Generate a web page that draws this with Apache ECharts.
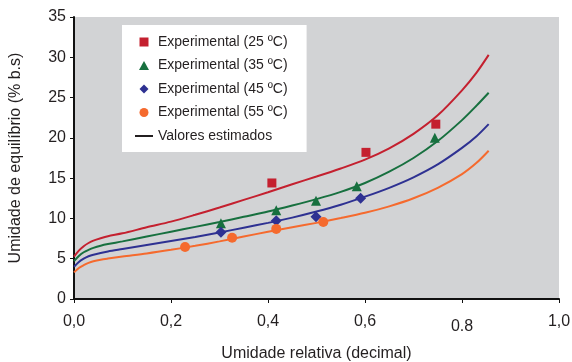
<!DOCTYPE html>
<html>
<head>
<meta charset="utf-8">
<script src="https://cdn.jsdelivr.net/npm/echarts@6/dist/echarts.min.js"></script>
<style>
  html, body { margin: 0; padding: 0; background: #fff; }
  #chart { width: 572px; height: 362px; }
</style>
</head>
<body>
<div id="chart"></div>
<script>
// experimental points
const x25 = [0.408, 0.602, 0.746];
const y25 = [14.4, 18.2, 21.7];
const x35 = [0.303, 0.417, 0.499, 0.583, 0.744];
const y35 = [9.4, 11.0, 12.2, 14.0, 20.0];
const x45 = [0.303, 0.417, 0.499, 0.591];
const y45 = [8.3, 9.7, 10.2, 12.5];
const x55 = [0.229, 0.326, 0.417, 0.514];
const y55 = [6.45, 7.6, 8.7, 9.55];

// estimated curves
const xFit = [0, 0.01, 0.02, 0.03, 0.04, 0.055, 0.07, 0.1, 0.15, 0.2, 0.25, 0.3, 0.35, 0.4, 0.45, 0.5, 0.55, 0.6, 0.65, 0.7, 0.75, 0.8, 0.83, 0.855];
const fit25 = [5.25, 6.0, 6.55, 6.95, 7.25, 7.55, 7.8, 8.15, 8.9, 9.6, 10.45, 11.35, 12.3, 13.25, 14.25, 15.2, 16.2, 17.3, 18.7, 20.5, 22.8, 25.9, 28.1, 30.3];
const fit35 = [4.7, 5.35, 5.8, 6.1, 6.35, 6.62, 6.82, 7.15, 7.75, 8.35, 8.95, 9.55, 10.2, 10.85, 11.6, 12.4, 13.3, 14.4, 15.8, 17.5, 19.6, 22.2, 24.0, 25.6];
const fit45 = [4.0, 4.6, 5.0, 5.3, 5.5, 5.72, 5.9, 6.2, 6.7, 7.2, 7.7, 8.25, 8.85, 9.45, 10.1, 10.85, 11.7, 12.7, 13.8, 15.1, 16.7, 18.75, 20.2, 21.7];
const fit55 = [3.3, 3.85, 4.2, 4.48, 4.68, 4.88, 5.02, 5.27, 5.65, 6.1, 6.6, 7.15, 7.75, 8.35, 8.9, 9.45, 10.05, 10.7, 11.5, 12.5, 13.8, 15.5, 16.9, 18.4];

const xTickLabels = ["0,0", "0,2", "0,4", "0,6", "0.8", "1,0"];

const names = [
  "Experimental (25 ºC)",
  "Experimental (35 ºC)",
  "Experimental (45 ºC)",
  "Experimental (55 ºC)",
  "Valores estimados",
];
const colors = ["#c4202f", "#17703f", "#2e3192", "#f56a2e"];

const zip = (xs, ys) => xs.map((x, i) => [x, ys[i]]);

let myChart = echarts.init(document.getElementById("chart"), null, { renderer: "canvas" });

const font = "Liberation Sans, Arial, sans-serif";

function lineSeries(ys, color) {
  return {
    type: "line",
    data: zip(xFit, ys),
    smooth: 0.3,
    showSymbol: false,
    symbol: "none",
    silent: true,
    lineStyle: { color: color, width: 2 },
    z: 2,
  };
}

function scatterSeries(name, xs, ys, symbol, size, color) {
  return {
    name: name,
    type: "scatter",
    data: zip(xs, ys),
    symbol: symbol,
    symbolSize: size,
    itemStyle: { color: color, opacity: 1 },
    z: 3,
  };
}

let option = {
  animation: false,
  textStyle: { fontFamily: font },
  grid: {
    left: 74,
    right: 13,
    top: 17,
    bottom: 63,
    outerBoundsMode: "none",
    containLabel: false,
    show: true,
    backgroundColor: "#d2d3d5",
    borderWidth: 0,
  },
  legend: {
    orient: "vertical",
    left: 122,
    top: 25,
    backgroundColor: "#ffffff",
    padding: [10, 19, 9, 13],
    itemGap: 9.5,
    itemWidth: 18,
    itemHeight: 9,
    textStyle: { fontFamily: font, fontSize: 14, color: "#231f20" },
    data: [
      { name: names[0], icon: "path://M0,0L10,0L10,10L0,10Z" },
      { name: names[1], icon: "path://M5,0L10,9L0,9Z" },
      { name: names[2], icon: "path://M5,0L10,5L5,10L0,5Z" },
      { name: names[3], icon: "circle" },
      { name: names[4], icon: "path://M0,0L18,0L18,2L0,2Z" },
    ],
  },
  xAxis: {
    type: "value",
    min: 0,
    max: 1,
    interval: 0.2,
    name: "Umidade relativa (decimal)",
    nameLocation: "middle",
    nameGap: 47,
    nameTextStyle: { fontFamily: font, fontSize: 16, color: "#231f20" },
    axisLine: { show: true, lineStyle: { color: "#111", width: 2 } },
    axisTick: { show: true, length: 4, lineStyle: { color: "#111", width: 1 } },
    axisLabel: {
      margin: 15,
      fontFamily: font,
      fontSize: 16,
      color: "#231f20",
      formatter: (v) => {
        const i = Math.round(v / 0.2);
        return i === 4 ? "{low|" + xTickLabels[i] + "}" : xTickLabels[i];
      },
      rich: { low: { fontFamily: font, fontSize: 16, color: "#231f20", padding: [5, 0, 0, 0] } },
    },
    splitLine: { show: false },
  },
  yAxis: {
    type: "value",
    min: 0,
    max: 35,
    interval: 5,
    name: "Umidade de equilíbrio (% b.s)",
    nameLocation: "middle",
    nameGap: 50,
    nameTextStyle: { fontFamily: font, fontSize: 16, color: "#231f20" },
    axisLine: { show: true, lineStyle: { color: "#111", width: 2 } },
    axisTick: { show: true, length: 4, lineStyle: { color: "#111", width: 1 } },
    axisLabel: { margin: 8, fontFamily: font, fontSize: 16, color: "#231f20" },
    splitLine: { show: false },
  },
  series: [
    lineSeries(fit25, colors[0]),
    lineSeries(fit35, colors[1]),
    lineSeries(fit45, colors[2]),
    lineSeries(fit55, colors[3]),
    scatterSeries(names[0], x25, y25, "rect", 9, colors[0]),
    scatterSeries(names[1], x35, y35, "triangle", 10, colors[1]),
    scatterSeries(names[2], x45, y45, "diamond", 11, colors[2]),
    scatterSeries(names[3], x55, y55, "circle", 10, colors[3]),
    {
      name: names[4],
      type: "line",
      data: [],
      symbol: "none",
      lineStyle: { color: "#231f20", width: 2 },
      itemStyle: { color: "#231f20" },
    },
  ],
};
myChart.setOption(option);
</script>
</body>
</html>
